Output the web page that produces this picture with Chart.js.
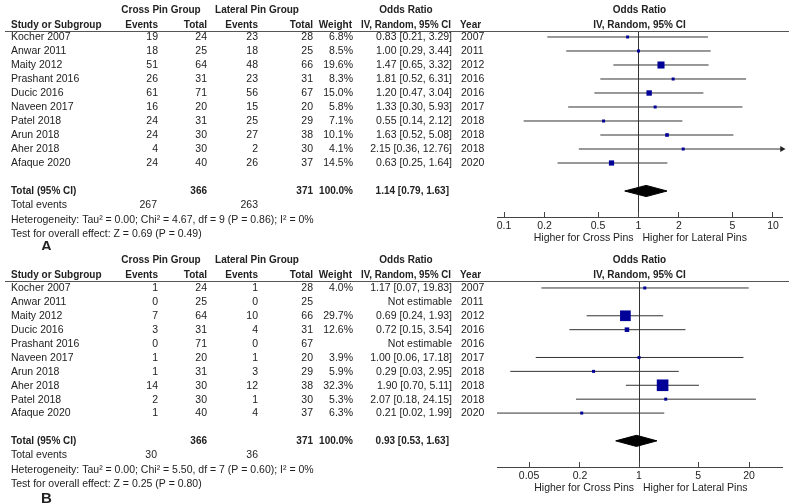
<!DOCTYPE html>
<html>
<head>
<meta charset="utf-8">
<script src="https://cdn.jsdelivr.net/npm/chart.js@4.4.0/dist/chart.umd.min.js"></script>
<style>
html, body { margin: 0; padding: 0; background: #fff; }
#wrap { position: relative; width: 791px; height: 504px; overflow: hidden; }
canvas { position: absolute; left: 0; }
</style>
</head>
<body>
<div id="wrap">
<canvas id="panelA" width="791" height="250" style="top:0px"></canvas>
<canvas id="panelB" width="791" height="254" style="top:250px"></canvas>
</div>
<script>
// ---- panel A ----
var studiesA = ['Kocher 2007', 'Anwar 2011', 'Maity 2012', 'Prashant 2016', 'Ducic 2016',
                'Naveen 2017', 'Patel 2018', 'Arun 2018', 'Aher 2018', 'Afaque 2020'];
var crossEventsA = [19, 18, 51, 26, 61, 16, 24, 24, 4, 24];
var crossTotalA = [24, 25, 64, 31, 71, 20, 31, 30, 30, 40];
var latEventsA = [23, 18, 48, 23, 56, 15, 25, 27, 2, 26];
var latTotalA = [28, 25, 66, 31, 67, 20, 29, 38, 30, 37];
var weightA = [6.8, 8.5, 19.6, 8.3, 15.0, 5.8, 7.1, 10.1, 4.1, 14.5];
var orA = [0.83, 1.00, 1.47, 1.81, 1.20, 1.33, 0.55, 1.63, 2.15, 0.63];
var loA = [0.21, 0.29, 0.65, 0.52, 0.47, 0.30, 0.14, 0.52, 0.36, 0.25];
var hiA = [3.29, 3.44, 3.32, 6.31, 3.04, 5.93, 2.12, 5.08, 12.76, 1.64];
var yearA = [2007, 2011, 2012, 2016, 2016, 2017, 2018, 2018, 2018, 2020];
var totalA = [366, 371, 1.14, 0.79, 1.63];   // cross total, lateral total, OR, lo, hi
var eventsA = [267, 263];
var hetA = 'Heterogeneity: Tau\u00b2 = 0.00; Chi\u00b2 = 4.67, df = 9 (P = 0.86); I\u00b2 = 0%';
var testA = 'Test for overall effect: Z = 0.69 (P = 0.49)';
var ticksA = [0.1, 0.2, 0.5, 1, 2, 5, 10];

// ---- panel B ----
var studiesB = ['Kocher 2007', 'Anwar 2011', 'Maity 2012', 'Ducic 2016', 'Prashant 2016',
                'Naveen 2017', 'Arun 2018', 'Aher 2018', 'Patel 2018', 'Afaque 2020'];
var crossEventsB = [1, 0, 7, 3, 0, 1, 1, 14, 2, 1];
var crossTotalB = [24, 25, 64, 31, 71, 20, 31, 30, 30, 40];
var latEventsB = [1, 0, 10, 4, 0, 1, 3, 12, 1, 4];
var latTotalB = [28, 25, 66, 31, 67, 20, 29, 38, 30, 37];
var weightB = [4.0, null, 29.7, 12.6, null, 3.9, 5.9, 32.3, 5.3, 6.3];
var orB = [1.17, null, 0.69, 0.72, null, 1.00, 0.29, 1.90, 2.07, 0.21];
var loB = [0.07, null, 0.24, 0.15, null, 0.06, 0.03, 0.70, 0.18, 0.02];
var hiB = [19.83, null, 1.93, 3.54, null, 17.18, 2.95, 5.11, 24.15, 1.99];
var yearB = [2007, 2011, 2012, 2016, 2016, 2017, 2018, 2018, 2018, 2020];
var totalB = [366, 371, 0.93, 0.53, 1.63];
var eventsB = [30, 36];
var hetB = 'Heterogeneity: Tau\u00b2 = 0.00; Chi\u00b2 = 5.50, df = 7 (P = 0.60); I\u00b2 = 0%';
var testB = 'Test for overall effect: Z = 0.25 (P = 0.80)';
var ticksB = [0.05, 0.2, 1, 5, 20];

var FONT = '"Liberation Sans", Arial, sans-serif';
var TEXT = '#222';

function ciText(or, lo, hi) {
    if (or == null) return 'Not estimable';
    return or.toFixed(2) + ' [' + lo.toFixed(2) + ', ' + hi.toFixed(2) + ']';
}

function tablePlugin(p) {
    return {
        id: 'forestTable',
        afterDraw: function (chart) {
            var c = chart.ctx;
            var ys = chart.scales.y, xs = chart.scales.x;
            var reg = '10.5px ' + FONT, bold = 'bold 10px ' + FONT;
            function t(s, x, y, align, font, maxW) {
                c.font = font || reg;
                c.textAlign = align || 'left';
                if (maxW) c.fillText(s, x, y + 0.5, maxW);
                else c.fillText(s, x, y + 0.5);
            }
            c.save();
            c.fillStyle = TEXT;
            c.textBaseline = 'middle';

            // column headers
            t('Cross Pin Group', 161, 10, 'center', bold);
            t('Lateral Pin Group', 257, 10, 'center', bold);
            t('Odds Ratio', 406, 10, 'center', bold);
            t('Study or Subgroup', 11, 24.5, 'left', bold);
            t('Events', 158, 24.5, 'right', bold);
            t('Total', 207, 24.5, 'right', bold);
            t('Events', 258, 24.5, 'right', bold);
            t('Total', 313, 24.5, 'right', bold);
            t('Weight', 352, 24.5, 'right', bold);
            t('IV, Random, 95% CI', 451, 24.5, 'right', bold, 90);
            t('Year', 460, 24.5, 'left', bold);
            var mid = (xs.left + xs.right) / 2;
            t('Odds Ratio', mid, 10, 'center', bold);
            t('IV, Random, 95% CI', mid, 24.5, 'center', bold);

            c.strokeStyle = '#555';
            c.lineWidth = 1;
            c.beginPath();
            c.moveTo(5, Math.round(ys.top) - 0.5);
            c.lineTo(789, Math.round(ys.top) - 0.5);
            c.stroke();

            // study rows
            p.studies.forEach(function (s, i) {
                var y = ys.getPixelForValue(i);
                t(s, 11, y);
                t(String(p.crossEvents[i]), 158, y, 'right');
                t(String(p.crossTotal[i]), 207, y, 'right');
                t(String(p.latEvents[i]), 258, y, 'right');
                t(String(p.latTotal[i]), 313, y, 'right');
                if (p.weight[i] != null) t(p.weight[i].toFixed(1) + '%', 353, y, 'right');
                t(ciText(p.or[i], p.lo[i], p.hi[i]), 452, y, 'right');
                t(String(p.year[i]), 461, y);
            });

            // totals
            var ty = ys.getPixelForValue(p.totalRow);
            t('Total (95% CI)', 11, ty, 'left', bold);
            t(String(p.total[0]), 207, ty, 'right', bold);
            t(String(p.total[1]), 313, ty, 'right', bold);
            t('100.0%', 353, ty, 'right', bold);
            t(ciText(p.total[2], p.total[3], p.total[4]), 449, ty, 'right', bold);
            t('Total events', 11, ty + 14);
            t(String(p.events[0]), 157, ty + 14, 'right');
            t(String(p.events[1]), 258, ty + 14, 'right');
            t(p.het, 11, ty + 28.5);
            t(p.test, 11, ty + 42.5);
            t(p.letter, 41, p.letterY, 'left', 'bold 15px ' + FONT);

            // favours labels under the axis
            var x1 = xs.getPixelForValue(1);
            t('Higher for Cross Pins', x1 - 5, 238, 'right');
            t('Higher for Lateral Pins', x1 + 4, 238, 'left');
            c.restore();
        }
    };
}

function makePanel(id, p) {
    var canvas = document.getElementById(id);
    var datasets = [];

    // study squares, sized by weight
    var pts = [], radii = [];
    p.studies.forEach(function (s, i) {
        if (p.or[i] == null) return;
        pts.push({ x: p.or[i], y: i });
        var side = Math.max(3, 0.36 * p.weight[i]);
        radii.push(side / Math.SQRT2);
    });
    datasets.push({
        data: pts, pointStyle: 'rect', pointRadius: radii,
        backgroundColor: '#000099', borderColor: '#000099', borderWidth: 0, order: 0
    });

    // confidence interval lines (clipped at axis end with an arrow)
    var arrows = [];
    p.studies.forEach(function (s, i) {
        if (p.or[i] == null) return;
        var hi = Math.min(p.hi[i], p.xMax);
        if (p.hi[i] > p.xMax) arrows.push({ x: p.xMax, y: i });
        datasets.push({
            data: [{ x: p.lo[i], y: i }, { x: hi, y: i }],
            showLine: true, borderColor: '#333', borderWidth: 1, pointRadius: 0, order: 1
        });
    });
    datasets.push({
        data: arrows, pointStyle: 'triangle', rotation: 90, pointRadius: 3.5,
        backgroundColor: '#222', borderColor: '#222', borderWidth: 0, clip: false, order: 0
    });

    // pooled diamond
    var r = p.totalRow, h = 0.4;
    datasets.push({
        data: [{ x: p.total[3], y: r }, { x: p.total[2], y: r - h }, { x: p.total[4], y: r },
               { x: p.total[2], y: r + h }, { x: p.total[3], y: r }],
        showLine: true, fill: 'shape', tension: 0, pointRadius: 0,
        borderColor: '#000', backgroundColor: '#000', borderWidth: 1, order: 0
    });

    return new Chart(canvas, {
        type: 'scatter',
        data: { datasets: datasets },
        options: {
            responsive: false,
            animation: false,
            devicePixelRatio: 1,
            layout: { padding: { left: 497, right: 9, top: 32, bottom: canvas.height - 217 - 30 } },
            plugins: { legend: { display: false }, tooltip: { enabled: false } },
            scales: {
                x: {
                    type: 'logarithmic',
                    min: p.xMin,
                    max: p.xMax,
                    afterBuildTicks: function (scale) {
                        scale.ticks = p.ticks.map(function (v) { return { value: v }; });
                    },
                    afterFit: function (scale) { scale.height = 30; },
                    ticks: {
                        autoSkip: false, maxRotation: 0, padding: 8,
                        color: TEXT, font: { family: FONT, size: 10.5 },
                        callback: function (v) { return String(v); }
                    },
                    grid: {
                        drawOnChartArea: true,
                        color: function (ctx) {
                            return ctx.tick && ctx.tick.value === 1 ? '#333' : 'rgba(0,0,0,0)';
                        },
                        tickColor: '#444', tickLength: -5, lineWidth: 1
                    },
                    border: { display: true, color: '#444', width: 1 }
                },
                y: {
                    type: 'linear', reverse: true, display: false,
                    min: p.yMin, max: p.yMax
                }
            }
        },
        plugins: [tablePlugin(p)]
    });
}

makePanel('panelA', {
    studies: studiesA, crossEvents: crossEventsA, crossTotal: crossTotalA,
    latEvents: latEventsA, latTotal: latTotalA, weight: weightA,
    or: orA, lo: loA, hi: hiA, year: yearA, total: totalA, events: eventsA,
    het: hetA, test: testA, ticks: ticksA, letter: 'A', letterY: 246,
    xMin: 0.0887, xMax: 11.67, yMin: -0.357, yMax: 12.857, totalRow: 11
});

makePanel('panelB', {
    studies: studiesB, crossEvents: crossEventsB, crossTotal: crossTotalB,
    latEvents: latEventsB, latTotal: latTotalB, weight: weightB,
    or: orB, lo: loB, hi: hiB, year: yearB, total: totalB, events: eventsB,
    het: hetB, test: testB, ticks: ticksB, letter: 'B', letterY: 248,
    xMin: 0.0209, xMax: 49.1, yMin: -0.43, yMax: 12.88, totalRow: 11
});
</script>
</body>
</html>
